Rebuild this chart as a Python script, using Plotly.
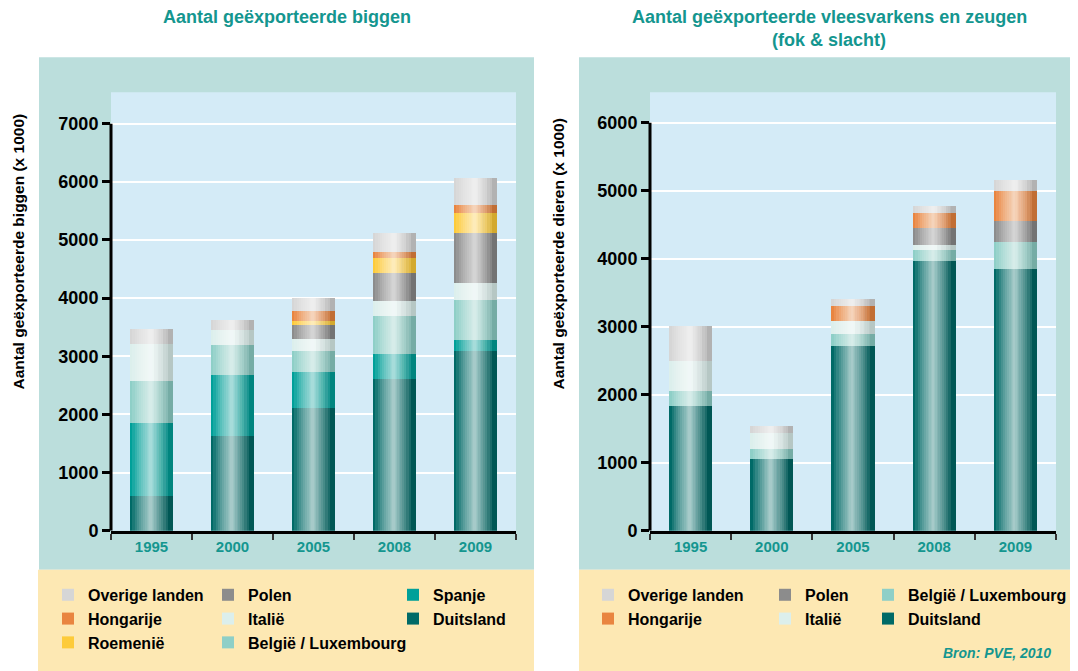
import numpy as np
import plotly.graph_objects as go

# Aantallen x 1000
jaren = ["1995", "2000", "2005", "2008", "2009"]

# links: geexporteerde biggen, van onder naar boven gestapeld
biggen_duitsland = [600, 1630, 2100, 2600, 3080]
biggen_spanje = [1250, 1050, 620, 440, 200]
biggen_belgie = [730, 515, 360, 650, 690]
biggen_italie = [620, 260, 220, 260, 290]
biggen_polen = [0, 0, 240, 480, 860]
biggen_roemenie = [0, 0, 70, 250, 340]
biggen_hongarije = [0, 0, 170, 110, 140]
biggen_overig = [260, 170, 220, 325, 460]

# rechts: vleesvarkens en zeugen (fok & slacht)
varkens_duitsland = [1830, 1050, 2710, 3965, 3850]
varkens_belgie = [220, 145, 180, 165, 395]
varkens_italie = [440, 235, 190, 75, 0]
varkens_polen = [0, 0, 0, 250, 310]
varkens_hongarije = [0, 0, 220, 210, 440]
varkens_overig = [515, 105, 105, 115, 160]

# de pagina heeft 8px marge en de opname wordt verticaal iets samengedrukt
MARGE = 8
SY = 671 / 682
W, H = 1078 - MARGE, 682 - MARGE
FONT = "Liberation Sans, Arial, sans-serif"
TEAL = "#14968f"

kleuren = {
    "Duitsland": "#006a67",
    "Spanje": "#00a099",
    "België / Luxembourg": "#8ecfc7",
    "Italië": "#dcefec",
    "Polen": "#8c8c8c",
    "Roemenië": "#fdcb3a",
    "Hongarije": "#e98540",
    "Overige landen": "#d6d6d6",
}


def px(x):
    return (x - MARGE) / W


def py(y):
    return 1 - (y / SY - MARGE) / H


fig = go.Figure()


def stapel(reeksen, xa, ya):
    base = np.zeros(len(jaren))
    for naam, waarden, leg in reeksen:
        fig.add_trace(go.Bar(
            x=jaren, y=waarden, base=base.tolist(), name=naam,
            marker=dict(color=kleuren[naam], line_width=0),
            width=0.53, xaxis=xa, yaxis=ya, legend=leg,
        ))
        base = base + np.array(waarden)
    # glans op de staven: donkere rechterkant, lichte baan iets links van het midden
    glans = []
    for start in [0.03, 0.08, 0.14, 0.2]:
        glans.append((0.265 - start, start, "rgba(0,0,0,0.045)"))
    for b in [0.44, 0.38, 0.32, 0.27, 0.22, 0.17, 0.13, 0.09, 0.06, 0.03]:
        glans.append((b, -0.015 - b / 2, "rgba(255,255,255,0.10)"))
    for breedte, offset, kleur in glans:
        fig.add_trace(go.Bar(
            x=jaren, y=base.tolist(), base=0, width=breedte, offset=offset,
            marker=dict(color=kleur, line_width=0),
            showlegend=False, hoverinfo="skip", xaxis=xa, yaxis=ya,
        ))


stapel([
    ("Duitsland", biggen_duitsland, "legend3"),
    ("Spanje", biggen_spanje, "legend3"),
    ("België / Luxembourg", biggen_belgie, "legend2"),
    ("Italië", biggen_italie, "legend2"),
    ("Polen", biggen_polen, "legend2"),
    ("Roemenië", biggen_roemenie, "legend"),
    ("Hongarije", biggen_hongarije, "legend"),
    ("Overige landen", biggen_overig, "legend"),
], "x", "y")

stapel([
    ("Duitsland", varkens_duitsland, "legend6"),
    ("België / Luxembourg", varkens_belgie, "legend6"),
    ("Italië", varkens_italie, "legend5"),
    ("Polen", varkens_polen, "legend5"),
    ("Hongarije", varkens_hongarije, "legend4"),
    ("Overige landen", varkens_overig, "legend4"),
], "x2", "y2")

# achtergronden
shapes = [
    dict(type="rect", xref="paper", yref="paper", x0=px(39), x1=px(534), y0=py(569), y1=py(57),
         fillcolor="#bbdedc", line_width=0, layer="below"),
    dict(type="rect", xref="paper", yref="paper", x0=px(579), x1=1, y0=py(569), y1=py(57),
         fillcolor="#bbdedc", line_width=0, layer="below"),
    dict(type="rect", xref="paper", yref="paper", x0=px(38), x1=px(534), y0=0, y1=py(569),
         fillcolor="#fde8b3", line_width=0, layer="below"),
    dict(type="rect", xref="paper", yref="paper", x0=px(579), x1=1, y0=0, y1=py(569),
         fillcolor="#fde8b3", line_width=0, layer="below"),
    dict(type="rect", xref="paper", yref="paper", x0=px(111), x1=px(516), y0=py(530), y1=py(92),
         fillcolor="#d4ebf7", line_width=0, layer="below"),
    dict(type="rect", xref="paper", yref="paper", x0=px(650), x1=px(1056), y0=py(530), y1=py(92),
         fillcolor="#d4ebf7", line_width=0, layer="below"),
    # y-aslijnen tot de bovenste tick
    dict(type="line", xref="x domain", yref="y", x0=0, x1=0, y0=0, y1=7000,
         line=dict(color="black", width=3)),
    dict(type="line", xref="x2 domain", yref="y2", x0=0, x1=0, y0=0, y1=6000,
         line=dict(color="black", width=3)),
]

as_x = dict(
    type="category", range=[-0.5, 4.5], showgrid=False, showline=True,
    linecolor="black", linewidth=3, ticks="outside", tickson="boundaries",
    ticklen=6, tickwidth=2, tickcolor="#333",
    tickfont=dict(family=FONT, size=15, color=TEAL, weight="bold"), fixedrange=True,
)
as_y = dict(
    dtick=1000, showgrid=True, gridcolor="white", gridwidth=2, zeroline=False,
    showline=False, ticks="outside", ticklen=8, tickwidth=2.5, tickcolor="black",
    tickfont=dict(family=FONT, size=18, color="black", weight="bold"), fixedrange=True,
)


def legenda(x_tekst, y_top):
    return dict(
        x=px(x_tekst - 40), xanchor="left", y=py(y_top), yanchor="top",
        orientation="v", traceorder="reversed", bgcolor="rgba(0,0,0,0)",
        font=dict(family=FONT, size=16, color="black", weight="bold"),
        itemclick=False, itemdoubleclick=False,
    )


fig.update_layout(
    width=W, height=H, margin=dict(l=0, r=0, t=0, b=0),
    paper_bgcolor="white", plot_bgcolor="rgba(0,0,0,0)",
    barmode="overlay", bargap=0, showlegend=True,
    xaxis=dict(as_x, domain=[px(111), px(516)], anchor="y"),
    yaxis=dict(as_y, domain=[py(530), py(92)], range=[0, 7540], anchor="x"),
    xaxis2=dict(as_x, domain=[px(650), px(1056)], anchor="y2"),
    yaxis2=dict(as_y, domain=[py(530), py(92)], range=[0, 6450], anchor="x2"),
    legend=legenda(88, 577),
    legend2=legenda(248, 577),
    legend3=legenda(433, 577),
    legend4=legenda(628, 577),
    legend5=legenda(805, 577),
    legend6=legenda(908, 577),
    shapes=shapes,
)


def tekst(t, x, y, size, kleur="black", hoek=0, italic=False, xanchor="center"):
    fig.add_annotation(
        text=t, x=px(x), y=py(y), xref="paper", yref="paper", showarrow=False,
        xanchor=xanchor, yanchor="middle", textangle=hoek,
        font=dict(family=FONT, size=size, color=kleur, weight="bold",
                  style="italic" if italic else "normal"),
    )


tekst("Aantal geëxporteerde biggen", 287, 17, 18, TEAL)
tekst("Aantal geëxporteerde vleesvarkens en zeugen", 829, 17, 18, TEAL)
tekst("(fok &amp; slacht)", 829, 40, 18, TEAL)
tekst("Aantal geëxporteerde biggen (x 1000)", 18, 251, 15.5, hoek=-90)
tekst("Aantal geëxporteerde dieren (x 1000)", 558, 253, 15.5, hoek=-90)
tekst("Bron: PVE, 2010", 1053, 652, 14, TEAL, italic=True, xanchor="right")

fig.write_html("out.html")
